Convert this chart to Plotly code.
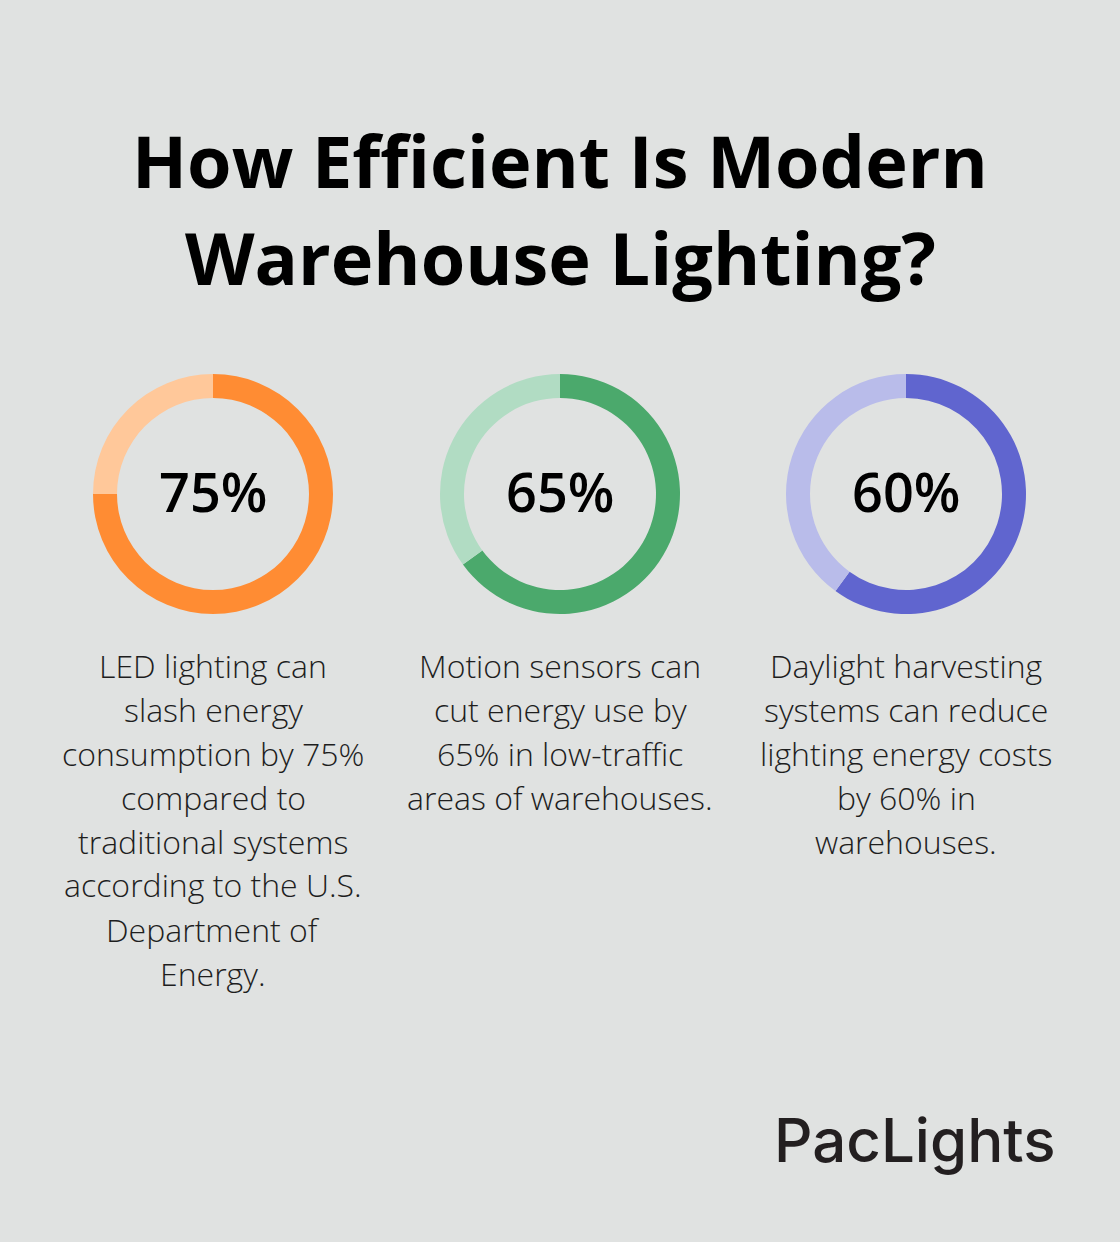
import plotly.graph_objects as go

title_lines = ["How Efficient Is Modern", "Warehouse Lighting?"]
percent_values = [75, 65, 60]
percent_labels = ["75%", "65%", "60%"]
main_colors = ["#FF8C33", "#4BA96C", "#6065CF"]
light_colors = ["#FFC89A", "#B1DCC3", "#B9BCEA"]
descriptions = [
    ["LED lighting can", "slash energy", "consumption by 75%", "compared to",
     "traditional systems", "according to the U.S.", "Department of", "Energy."],
    ["Motion sensors can", "cut energy use by", "65% in low-traffic", "areas of warehouses."],
    ["Daylight harvesting", "systems can reduce", "lighting energy costs", "by 60% in", "warehouses."],
]
brand = "PacLights"

W, H = 1120, 1242
BG = "#E0E2E1"
centers_x = [213, 560, 906]
center_y = 494
R = 120

fig = go.Figure()
for i, v in enumerate(percent_values):
    cx = centers_x[i]
    fig.add_trace(go.Pie(
        values=[v, 100 - v],
        marker=dict(colors=[main_colors[i], light_colors[i]], line=dict(width=0)),
        hole=0.8, sort=False, direction="clockwise", rotation=0,
        textinfo="none", hoverinfo="skip", showlegend=False,
        domain=dict(x=[(cx - R) / W, (cx + R) / W],
                    y=[(H - center_y - R) / H, (H - center_y + R) / H]),
    ))

ann = []
for j, line in enumerate(title_lines):
    ann.append(dict(text=line, x=560 / W, y=1 - (160 + 97 * j) / H,
                    xref="paper", yref="paper", showarrow=False,
                    font=dict(family="Open Sans", size=72, color="#000000", weight=700),
                    xanchor="center", yanchor="middle"))
for i, lab in enumerate(percent_labels):
    ann.append(dict(text=lab, x=centers_x[i] / W, y=1 - (center_y - 3) / H,
                    xref="paper", yref="paper", showarrow=False,
                    font=dict(family="Open Sans", size=54, color="#000000", weight=600),
                    xanchor="center", yanchor="middle"))
for i, lines in enumerate(descriptions):
    for j, line in enumerate(lines):
        ann.append(dict(text=line, x=centers_x[i] / W, y=1 - (665 + 44 * j) / H,
                        xref="paper", yref="paper", showarrow=False,
                        font=dict(family="Open Sans", size=32, color="#1E1E1E", weight=300),
                        xanchor="center", yanchor="middle"))
ann.append(dict(text=brand, x=1057 / W, y=1 - 1140 / H,
                xref="paper", yref="paper", showarrow=False,
                font=dict(family="Inter", size=60, color="#231F20", weight=500),
                xanchor="right", yanchor="middle"))

fig.update_layout(width=W, height=H, margin=dict(l=0, r=0, t=0, b=0),
                  paper_bgcolor=BG, plot_bgcolor=BG, annotations=ann)
fig.write_html("out.html", config={"displayModeBar": False},
               post_script="document.body.style.margin='0';document.body.style.background='" + BG + "';")
